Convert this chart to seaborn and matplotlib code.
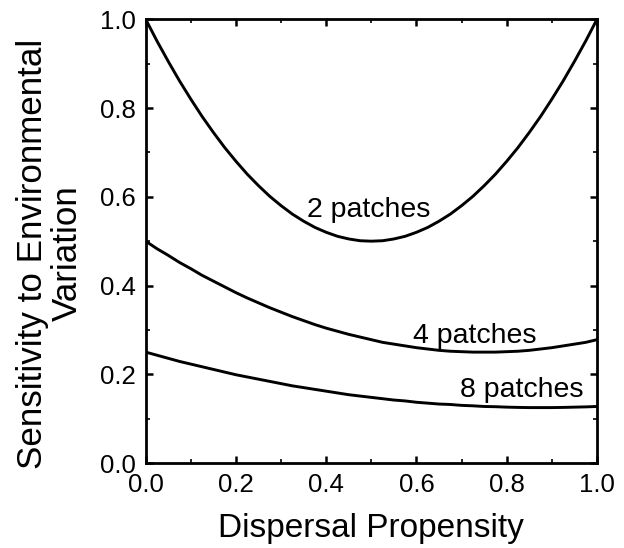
import numpy as np
import pandas as pd
import matplotlib
matplotlib.use("Agg")
import matplotlib.pyplot as plt
from matplotlib.ticker import MultipleLocator
import seaborn as sns

# Values
dispersal = [0.000, 0.025, 0.050, 0.075, 0.100, 0.125, 0.150, 0.175, 0.200, 0.225,
             0.250, 0.275, 0.300, 0.325, 0.350, 0.375, 0.400, 0.425, 0.450, 0.475,
             0.500, 0.525, 0.550, 0.575, 0.600, 0.625, 0.650, 0.675, 0.700, 0.725,
             0.750, 0.775, 0.800, 0.825, 0.850, 0.875, 0.900, 0.925, 0.950, 0.975,
             1.000]
sens_2 = [1.000, 0.951, 0.905, 0.861, 0.820, 0.781, 0.745, 0.711, 0.680, 0.651,
          0.625, 0.601, 0.580, 0.561, 0.545, 0.531, 0.520, 0.511, 0.505, 0.501,
          0.500, 0.501, 0.505, 0.511, 0.520, 0.531, 0.545, 0.561, 0.580, 0.601,
          0.625, 0.651, 0.680, 0.711, 0.745, 0.781, 0.820, 0.861, 0.905, 0.951,
          1.000]
sens_4 = [0.500, 0.483, 0.468, 0.452, 0.438, 0.423, 0.410, 0.397, 0.384, 0.372,
          0.361, 0.350, 0.340, 0.330, 0.321, 0.312, 0.304, 0.297, 0.290, 0.284,
          0.278, 0.272, 0.268, 0.264, 0.260, 0.257, 0.254, 0.252, 0.251, 0.250,
          0.250, 0.250, 0.251, 0.252, 0.254, 0.257, 0.260, 0.264, 0.268, 0.272,
          0.278]
sens_8 = [0.250, 0.243, 0.236, 0.229, 0.223, 0.217, 0.211, 0.205, 0.199, 0.194,
          0.189, 0.184, 0.179, 0.174, 0.170, 0.166, 0.162, 0.158, 0.154, 0.151,
          0.148, 0.145, 0.142, 0.140, 0.137, 0.135, 0.133, 0.132, 0.130, 0.129,
          0.1275, 0.127, 0.126, 0.1254, 0.125, 0.125, 0.125, 0.1254, 0.126, 0.1266,
          0.1275]
series_labels = ["2 patches", "4 patches", "8 patches"]
label_x = [0.495, 0.73, 0.833]
label_y = [0.555, 0.270, 0.149]
tick_vals = [0.0, 0.2, 0.4, 0.6, 0.8, 1.0]

df = pd.concat([
    pd.DataFrame({"d": dispersal, "s": vals, "series": name})
    for name, vals in zip(series_labels, [sens_2, sens_4, sens_8])
])

sns.set_style("white")
plt.rcParams["font.family"] = ["Liberation Sans", "DejaVu Sans"]

fig = plt.figure(figsize=(6.24, 5.48), dpi=100)
ax = fig.add_axes([0.2335, 0.155, 0.9567 - 0.2335, 0.9648 - 0.155])

sns.lineplot(data=df, x="d", y="s", units="series", estimator=None,
             color="black", linewidth=2.1, ax=ax, legend=False)

for txt, x, y in zip(series_labels, label_x, label_y):
    ax.text(x, y, txt, ha="center", va="baseline", fontsize=20.5, color="black")

ax.set_xlim(0, 1)
ax.set_ylim(0, 1)
ax.set_xticks(tick_vals)
ax.set_yticks(tick_vals)
ax.set_xticklabels([f"{v:.1f}" for v in tick_vals])
ax.set_yticklabels([f"{v:.1f}" for v in tick_vals])
ax.xaxis.set_minor_locator(MultipleLocator(0.1))
ax.yaxis.set_minor_locator(MultipleLocator(0.1))
ax.tick_params(which="both", direction="in", top=True, right=True,
               bottom=True, left=True, colors="black", labelcolor="black")
ax.tick_params(which="major", length=5, width=1.8, labelsize=18.5, pad=7)
ax.tick_params(which="minor", length=3, width=1.2)
for sp in ax.spines.values():
    sp.set_linewidth(2.0)
    sp.set_color("black")

ax.set_xlabel("Dispersal Propensity", fontsize=24, labelpad=12, color="black")
ax.set_ylabel("Sensitivity to Environmental\nVariation", fontsize=25.2,
              linespacing=1.08, color="black")
ax.yaxis.set_label_coords(-0.137, 0.472)

fig.savefig("out.png", dpi=100)
